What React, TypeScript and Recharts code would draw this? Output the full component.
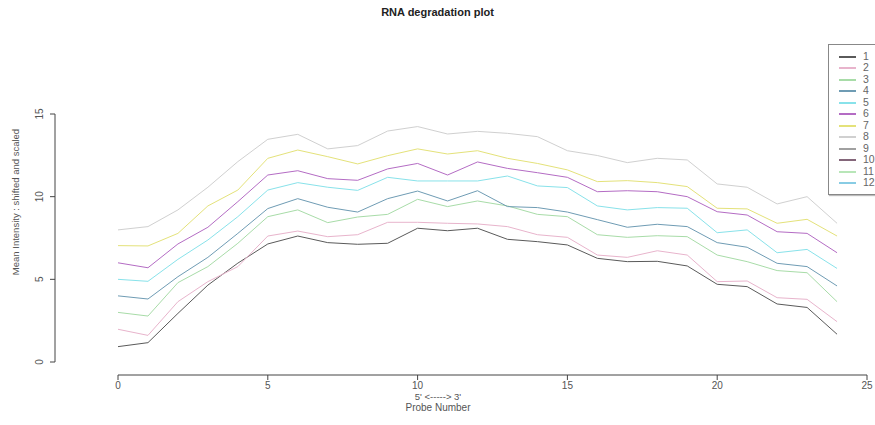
import React from "react";
import { LineChart, Line, XAxis, YAxis, ReferenceLine } from "recharts";

const probes = [0,1,2,3,4,5,6,7,8,9,10,11,12,13,14,15,16,17,18,19,20,21,22,23,24];
const s1 = [0.93,1.17,2.94,4.65,5.98,7.14,7.62,7.22,7.12,7.18,8.09,7.94,8.09,7.42,7.28,7.08,6.27,6.07,6.09,5.81,4.70,4.56,3.51,3.30,1.68];
const s2 = [1.98,1.61,3.65,4.86,5.77,7.62,7.92,7.58,7.70,8.45,8.45,8.39,8.35,8.19,7.70,7.54,6.47,6.33,6.73,6.47,4.86,4.90,3.89,3.79,2.44];
const s3 = [3.00,2.78,4.80,5.77,7.18,8.79,9.20,8.43,8.77,8.93,9.84,9.40,9.74,9.44,8.93,8.79,7.70,7.54,7.64,7.58,6.47,6.07,5.53,5.40,3.65];
const s4 = [4.00,3.81,5.16,6.33,7.78,9.28,9.88,9.36,9.07,9.88,10.34,9.74,10.36,9.40,9.34,9.07,8.61,8.15,8.33,8.19,7.22,6.94,5.97,5.77,4.60];
const s5 = [5.00,4.88,6.21,7.38,8.79,10.40,10.85,10.57,10.38,11.17,10.95,10.95,10.95,11.25,10.65,10.55,9.44,9.20,9.34,9.30,7.82,7.99,6.61,6.81,5.66];
const s6 = [6.00,5.70,7.14,8.15,9.70,11.31,11.57,11.09,10.99,11.68,12.01,11.31,12.10,11.71,11.45,11.17,10.30,10.36,10.30,10.00,9.09,8.89,7.88,7.78,6.61];
const s7 = [7.04,7.02,7.78,9.44,10.40,12.32,12.82,12.42,11.98,12.48,12.89,12.58,12.78,12.32,12.01,11.62,10.91,10.97,10.85,10.61,9.30,9.26,8.39,8.63,7.62];
const s8 = [7.99,8.19,9.20,10.57,12.12,13.47,13.77,12.89,13.09,13.97,14.24,13.79,13.95,13.83,13.63,12.78,12.49,12.06,12.32,12.22,10.77,10.57,9.56,10.00,8.39];

const seriesValues = [s1, s2, s3, s4, s5, s6, s7, s8];
const legendLabels = ["1","2","3","4","5","6","7","8","9","10","11","12"];
const legendColors = ["#5a5a5a","#e8b4cc","#a8dca8","#6f9cb4","#88e2ea","#b46cc4","#e4e27a","#d0d0d0","#a0a0a0","#84667a","#b8e6b8","#88cce4"];
const xTicks = [0,5,10,15,20,25];
const yTicks = [0,5,10,15];

const data = probes.map((p, i) => {
  const row: any = { probe: p };
  seriesValues.forEach((s, k) => { row["s" + (k + 1)] = s[i]; });
  return row;
});

const Y_MIN = -0.786;
const Y_MAX = 19.476;
const X_MIN = -2.103;
const X_MAX = 25;
const AX = "#444";

const YTick = (props: any) => {
  const { x, y, payload } = props;
  const tx = x - 5;
  return (
    <text x={tx} y={y} transform={`rotate(-90 ${tx} ${y})`} textAnchor="middle" fontSize={10} fill="#555" fontFamily="Liberation Sans, Arial, sans-serif">
      {payload.value}
    </text>
  );
};

const LegendBox = () => (
  <div style={{ position: "absolute", left: 828, top: 44, width: 60, height: 149, border: "1px solid #888", boxShadow: "1px 1px 1px #bbb", background: "#fff", fontFamily: "Liberation Sans, Arial, sans-serif", fontSize: 10.5, color: "#666" }}>
    {legendLabels.map((l, i) => (
      <div key={l} style={{ position: "absolute", left: 0, top: 6 + i * 11.45, height: 11, width: 60 }}>
        <div style={{ position: "absolute", left: 10, top: 5, width: 17, height: 2, background: legendColors[i] }} />
        <div style={{ position: "absolute", left: 34, top: 0, lineHeight: "11px" }}>{l}</div>
      </div>
    ))}
  </div>
);

export default function App() {
  return (
    <div style={{ position: "absolute", left: 0, top: 0, width: 875, height: 425, background: "#fff", overflow: "hidden", fontFamily: "Liberation Sans, Arial, sans-serif" }}>
      <LineChart width={875} height={425} data={data} margin={{ top: 40, right: 8, left: 0, bottom: 0 }}>
        <XAxis dataKey="probe" type="number" domain={[X_MIN, X_MAX]} ticks={xTicks} allowDataOverflow axisLine={false} tickLine={{ stroke: AX }} tickSize={5} tick={{ fontSize: 10, fill: "#555" }} tickMargin={2} height={50} interval={0} />
        <YAxis type="number" domain={[Y_MIN, Y_MAX]} ticks={yTicks} allowDataOverflow axisLine={false} tickLine={{ stroke: AX }} tickSize={5} tick={<YTick />} width={55} interval={0} />
        <ReferenceLine segment={[{ x: 0, y: Y_MIN }, { x: 25, y: Y_MIN }]} stroke={AX} ifOverflow="visible" />
        <ReferenceLine segment={[{ x: X_MIN, y: 0 }, { x: X_MIN, y: 15 }]} stroke={AX} ifOverflow="visible" />
        {seriesValues.map((_, k) => (
          <Line key={k} type="linear" dataKey={"s" + (k + 1)} stroke={legendColors[k]} strokeWidth={1} dot={false} isAnimationActive={false} />
        ))}
      </LineChart>
      <div style={{ position: "absolute", left: 0, width: 875, top: 6, textAlign: "center", fontWeight: "bold", fontSize: 11, color: "#222" }}>RNA degradation plot</div>
      <div style={{ position: "absolute", left: 118, width: 640, top: 391, textAlign: "center", fontSize: 9.5, color: "#555" }}>5' &lt;-----&gt; 3'</div>
      <div style={{ position: "absolute", left: 118, width: 640, top: 402, textAlign: "center", fontSize: 10, color: "#555" }}>Probe Number</div>
      <div style={{ position: "absolute", left: 16, top: 202, width: 0, height: 0 }}>
        <div style={{ position: "absolute", left: -120, top: -6, width: 240, textAlign: "center", fontSize: 9.5, color: "#555", transform: "rotate(-90deg)", whiteSpace: "nowrap", lineHeight: "12px" }}>Mean Intensity : shifted and scaled</div>
      </div>
      <LegendBox />
    </div>
  );
}
